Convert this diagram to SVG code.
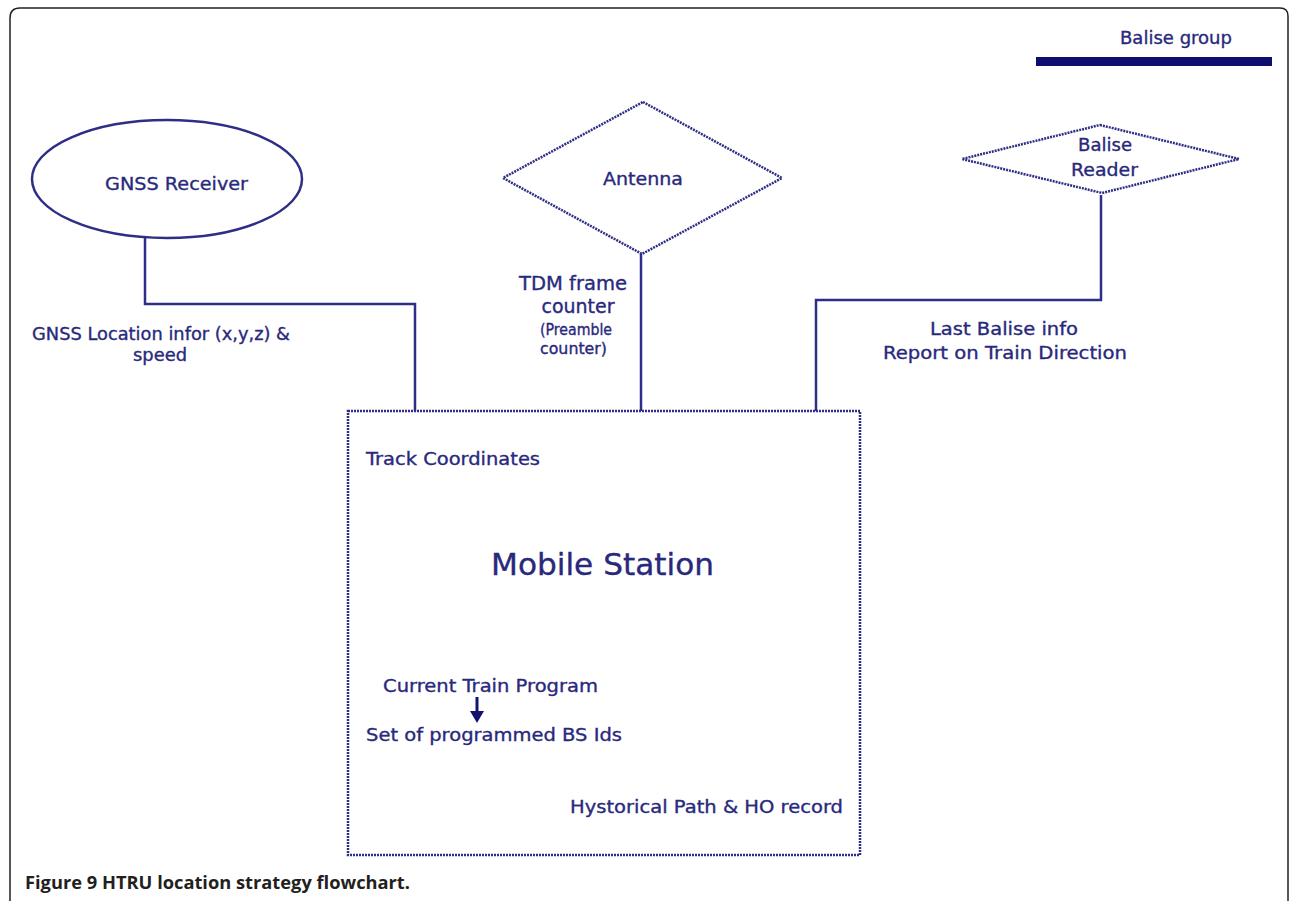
<svg xmlns="http://www.w3.org/2000/svg" width="1290" height="901" viewBox="0 0 1290 901">
<style>
.t{font-family:"DejaVu Sans","Liberation Sans",sans-serif;fill:#29297c;stroke:#29297c;stroke-width:0.35;}
.shape{fill:none;stroke:#2e2e86;stroke-width:2.5;stroke-dasharray:2 1;}
.solid{fill:none;stroke:#2e2e86;stroke-width:2.5;}
.conn{fill:none;stroke:#2e2e86;stroke-width:2.5;}
</style>
<rect width="1290" height="901" fill="#fff"/>
<path d="M10,920 L10,18 Q10,8 20,8 L1280,8 Q1288,8 1288,16 L1288,920" fill="none" stroke="#222" stroke-width="1.5"/>

<g id="legend">
<text class="t" x="1120" y="44" font-size="18" textLength="112" lengthAdjust="spacingAndGlyphs">Balise group</text>
<rect x="1036" y="57" width="236" height="9" fill="#0e0e6e"/>
</g>

<g id="connectors">
<polyline class="conn" points="145,238 145,304 415,304 415,411"/>
<line class="conn" x1="641" y1="254" x2="641" y2="411"/>
<polyline class="conn" points="1101,195 1101,300 816,300 816,411"/>
</g>

<g id="gnss">
<ellipse class="solid" cx="167" cy="179" rx="135" ry="59"/>
<text class="t" x="105" y="190" font-size="18" textLength="143" lengthAdjust="spacingAndGlyphs">GNSS Receiver</text>
</g>

<g id="antenna">
<polygon class="shape" points="643,102 782,178 642,254 503,178"/>
<text class="t" x="603" y="185" font-size="18" textLength="80" lengthAdjust="spacingAndGlyphs">Antenna</text>
</g>

<g id="balise-reader">
<polygon class="shape" points="1100,125 1239,159 1102,193 962,159"/>
<text class="t" x="1078" y="151" font-size="18" textLength="54" lengthAdjust="spacingAndGlyphs">Balise</text>
<text class="t" x="1071" y="176" font-size="18" textLength="67" lengthAdjust="spacingAndGlyphs">Reader</text>
</g>

<g id="labels">
<text class="t" x="32" y="340" font-size="17" textLength="258" lengthAdjust="spacingAndGlyphs">GNSS Location infor (x,y,z) &amp;</text>
<text class="t" x="133" y="361" font-size="17" textLength="54" lengthAdjust="spacingAndGlyphs">speed</text>
<text class="t" x="519" y="290" font-size="19" textLength="108" lengthAdjust="spacingAndGlyphs">TDM frame</text>
<text class="t" x="578" y="313" font-size="19" text-anchor="middle">counter</text>
<text class="t" x="540" y="335" font-size="15" textLength="72" lengthAdjust="spacingAndGlyphs">(Preamble</text>
<text class="t" x="540" y="354" font-size="15" textLength="67" lengthAdjust="spacingAndGlyphs">counter)</text>
<text class="t" x="930" y="335" font-size="18" textLength="148" lengthAdjust="spacingAndGlyphs">Last Balise info</text>
<text class="t" x="883" y="359" font-size="18" textLength="244" lengthAdjust="spacingAndGlyphs">Report on Train Direction</text>
</g>

<g id="mobile-station">
<rect class="shape" x="348" y="411" width="512" height="444"/>
<text class="t" x="366" y="465" font-size="18" textLength="174" lengthAdjust="spacingAndGlyphs">Track Coordinates</text>
<text class="t" x="491" y="575" font-size="31" textLength="223" lengthAdjust="spacingAndGlyphs">Mobile Station</text>
<text class="t" x="383" y="692" font-size="18" textLength="215" lengthAdjust="spacingAndGlyphs">Current Train Program</text>
<line x1="477" y1="697" x2="477" y2="713" stroke="#14146e" stroke-width="3"/>
<polygon points="470,711 484,711 477,723" fill="#14146e"/>
<text class="t" x="366" y="741" font-size="18" textLength="256" lengthAdjust="spacingAndGlyphs">Set of programmed BS Ids</text>
<text class="t" x="570" y="813" font-size="18" textLength="273" lengthAdjust="spacingAndGlyphs">Hystorical Path &amp; HO record</text>
</g>

<text x="25" y="889" font-family="'Open Sans','Liberation Sans',sans-serif" font-weight="bold" font-size="18" fill="#231f20" textLength="385" lengthAdjust="spacingAndGlyphs">Figure 9 HTRU location strategy flowchart.</text>
</svg>
